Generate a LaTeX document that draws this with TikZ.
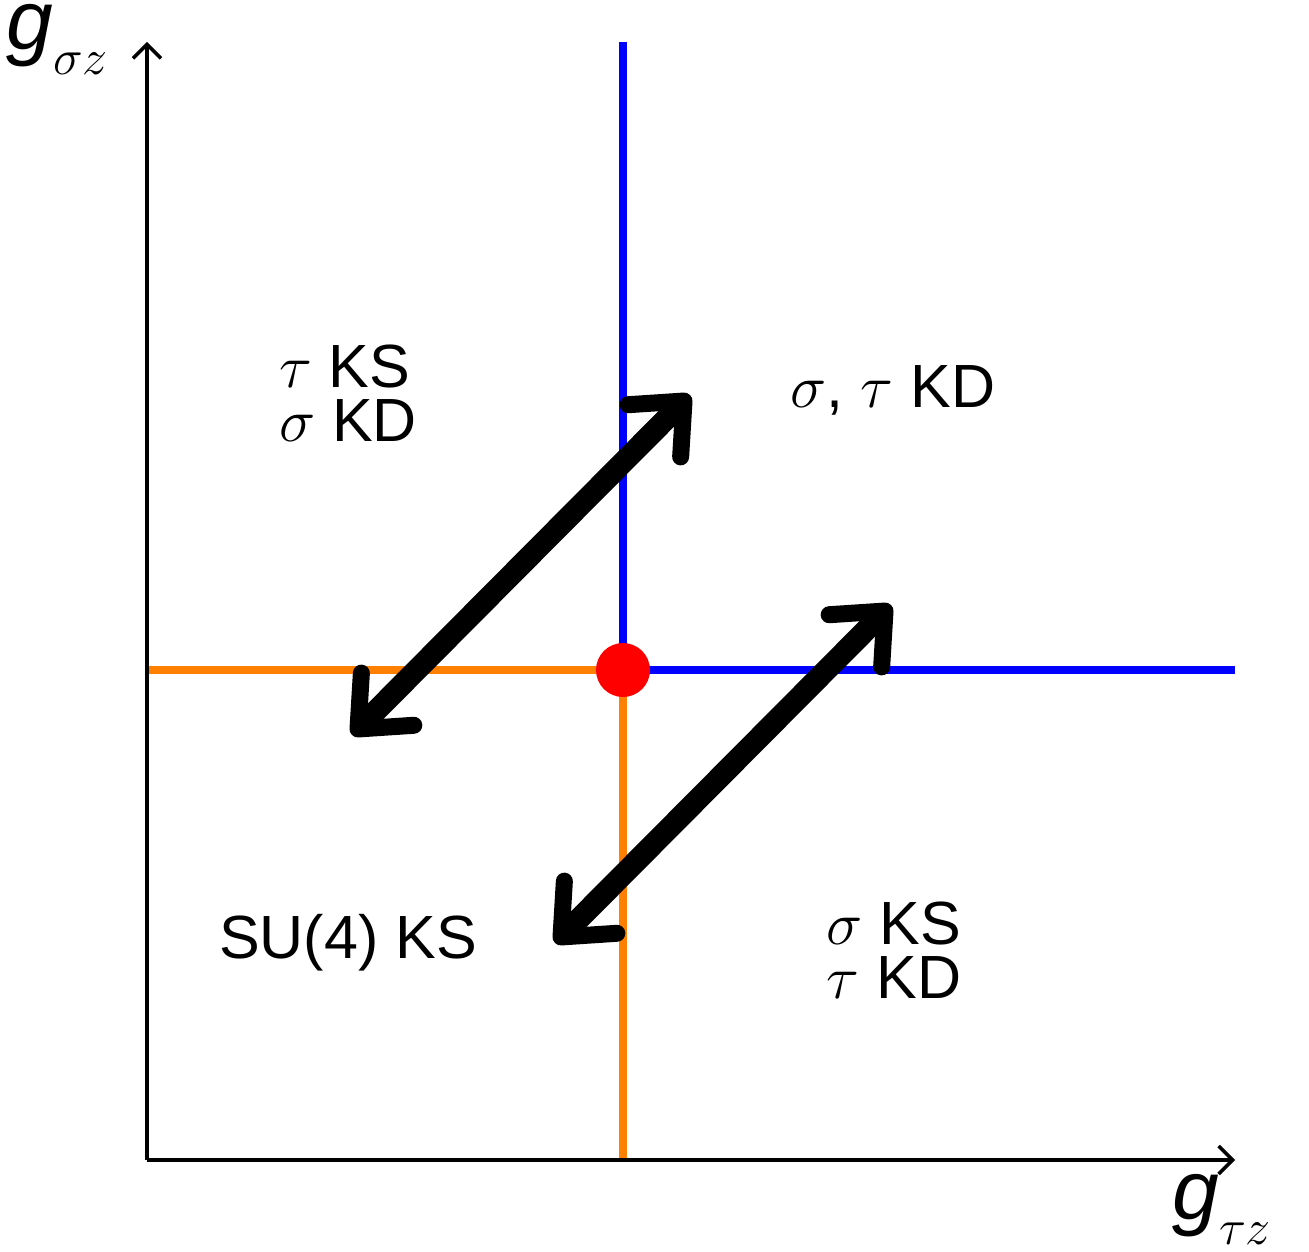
\RequirePackage{fix-cm}
\documentclass[tikz,border=0pt]{standalone}
\usepackage{fontspec}
\setmainfont{Liberation Sans}
\usetikzlibrary{arrows.meta}
\definecolor{pblue}{HTML}{0000FF}
\definecolor{porange}{HTML}{FF8000}
\definecolor{pred}{HTML}{FF0000}
\newcommand{\coupling}[1]{\textit{g}\raisebox{-12.5pt}{\fontsize{25}{25}\selectfont$#1 z$}}

\begin{document}
\begin{tikzpicture}[x=0.5pt, y=-0.5pt,
  axis/.style={line width=1.75pt, -{Straight Barb[length=7pt,width=14pt]}},
  phase/.style={line width=4pt},
  flow/.style={line width=11pt,
    {Straight Barb[round,length=21pt,width=37pt,line width=8.5pt]}-{Straight Barb[round,length=21pt,width=37pt,line width=8.5pt]}},
  lbl/.style={font=\fontsize{30.5}{27}\selectfont, align=left, inner sep=0pt},
  axlbl/.style={font=\fontsize{42}{42}\selectfont, inner sep=0pt, anchor=base west}]
\useasboundingbox (0,0) rectangle (1309,1251);
\coordinate (O) at (147,1160);
\coordinate (ytop) at (147,42);
\coordinate (xend) at (1235,1160);
\coordinate (crit) at (623,670);
% phase boundaries
\draw[phase, pblue] (crit) -- (623,42);
\draw[phase, pblue] (crit) -- (1235,670);
\draw[phase, porange] (crit) -- (147,670);
\draw[phase, porange] (crit) -- (623,1160);
% axes
\draw[axis] (O) -- (ytop);
\draw[axis] (O) -- (xend);
\node[axlbl] (gsz) at (6,50) {\coupling{\sigma}};
\node[axlbl] (gtz) at (1172,1219) {\coupling{\tau}};
% multicritical point
\fill[pred] (crit) circle (27);
% flows
\coordinate (fa1) at (352,735);
\coordinate (fa2) at (690,395);
\coordinate (fb1) at (555,943);
\coordinate (fb2) at (891,605);
\draw[flow] (fa1) -- (fa2);
\draw[flow] (fb1) -- (fb2);
% phases
\node[lbl] (ul) at (348,393) {$\tau$ KS\\$\sigma$ KD};
\node[lbl] (ur) at (893,390) {$\sigma$, $\tau$ KD};
\node[lbl] (ll) at (348,943) {SU(4) KS};
\node[lbl] (lr) at (894,950) {$\sigma$ KS\\$\tau$ KD};
\end{tikzpicture}
\end{document}
